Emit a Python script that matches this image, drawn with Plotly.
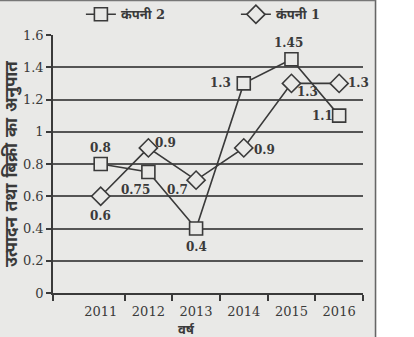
import plotly.graph_objects as go

years = [2011, 2012, 2013, 2014, 2015, 2016]
company2 = [0.8, 0.75, 0.4, 1.3, 1.45, 1.1]
company1 = [0.6, 0.9, 0.7, 0.9, 1.3, 1.3]
name2 = "कंपनी 2"
name1 = "कंपनी 1"
y_ticks = [0, 0.2, 0.4, 0.6, 0.8, 1.0, 1.2, 1.4, 1.6]
y_ticktext = ["0", "0.2", "0.4", "0.6", "0.8", "1", "1.2", "1.4", "1.6"]
x_title = "वर्ष"
y_title = "उत्पादन तथा बिक्री का अनुपात"

# label offsets (pixels) for each point label
off2 = [(0, 16), (-13, -18), (0, -18), (-23, 0), (-3, 16), (-17, 0)]
off1 = [(0, -20), (17, 5), (-19, -10), (21, -2), (16, -9), (19, 0)]

BG = "#e9e9e7"
INK = "#3a3a3a"
FONT = "DejaVu Serif, Noto Sans, serif"

fig = go.Figure()
fig.add_trace(go.Scatter(
    x=years, y=company2, name="<b>%s</b>" % name2, mode="lines+markers",
    line=dict(color=INK, width=1.6),
    marker=dict(symbol="square", size=13, color=BG, line=dict(color=INK, width=1.6)),
))
fig.add_trace(go.Scatter(
    x=years, y=company1, name="<b>%s</b>" % name1, mode="lines+markers",
    line=dict(color=INK, width=1.6),
    marker=dict(symbol="diamond", size=14, color=BG, line=dict(color=INK, width=1.6)),
))

def fmt(v):
    return "%g" % v

for xs, ys, offs in [(years, company2, off2), (years, company1, off1)]:
    for xv, yv, (dx, dy) in zip(xs, ys, offs):
        fig.add_annotation(x=xv, y=yv, xref="x", yref="y", text="<b>%s</b>" % fmt(yv),
                           showarrow=False, xshift=dx, yshift=dy,
                           font=dict(family=FONT, size=12, color=INK))

# x-axis title as annotation (placed left of centre as in the original)
fig.add_annotation(x=0.432, y=-0.14, xref="paper", yref="paper", yanchor="middle",
                   text="<b>%s</b>" % x_title,
                   showarrow=False, font=dict(family=FONT, size=13, color=INK))

# white region to the right of the scanned page and border lines
fig.add_shape(type="rect", xref="paper", yref="paper", x0=1.044, x1=1.3, y0=-0.3, y1=1.3,
              fillcolor="white", line=dict(width=0), layer="above")
fig.add_shape(type="line", xref="paper", yref="paper", x0=1.0403, x1=1.0403, y0=-0.3, y1=1.3,
              line=dict(color="#666", width=1.5), layer="above")
fig.add_shape(type="line", xref="paper", yref="paper", x0=-0.3, x1=1.0403, y0=1.134, y1=1.134,
              line=dict(color="#777", width=1.5), layer="above")

fig.update_layout(
    width=414, height=337,
    margin=dict(l=53, r=51, t=35, b=44, autoexpand=False),
    paper_bgcolor=BG, plot_bgcolor=BG,
    font=dict(family=FONT, color=INK),
    showlegend=True,
    legend=dict(orientation="h", x=0.09, xanchor="left", y=1.08, yanchor="middle",
                bgcolor="rgba(0,0,0,0)", font=dict(family=FONT, size=13, color=INK),
                entrywidth=110, entrywidthmode="pixels", traceorder="normal",
                itemwidth=30, tracegroupgap=0),
    xaxis=dict(range=[2010, 2016.5], tickvals=years, ticktext=[str(y) for y in years],
               ticks="", showgrid=False, zeroline=False, showline=True, linecolor=INK, linewidth=1.6,
               tickfont=dict(family=FONT, size=13, color=INK), ticklabelstandoff=6,
               minor=dict(tickvals=[2010, 2011.5, 2012.5, 2013.5, 2014.5, 2015.5, 2016.5],
                          ticks="outside", ticklen=6, tickwidth=1.5, tickcolor=INK, showgrid=False)),
    yaxis=dict(range=[0, 1.6], tickvals=y_ticks, ticktext=y_ticktext, ticks="outside", ticklen=5,
               tickwidth=1.5, tickcolor=INK, showgrid=True, gridcolor="#555", gridwidth=1.5,
               zeroline=False, showline=True, linecolor=INK, linewidth=1.6,
               tickfont=dict(family=FONT, size=13, color=INK),
               title=dict(text="<b>%s</b>" % y_title, font=dict(family=FONT, size=17, color=INK), standoff=4)),
)

fig.write_html("out.html")
